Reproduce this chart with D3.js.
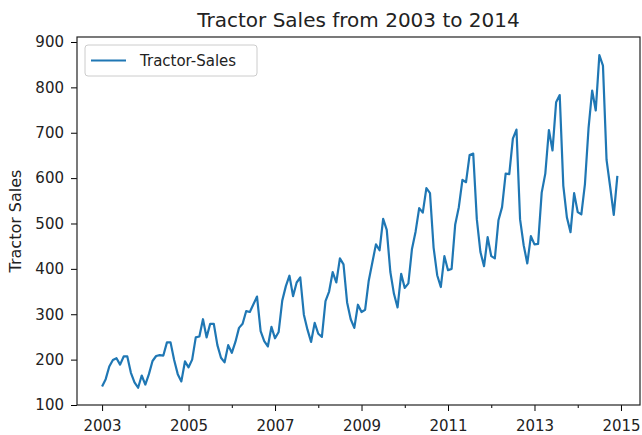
<!DOCTYPE html>
<html>
<head>
<meta charset="utf-8">
<script src="https://d3js.org/d3.v7.min.js"></script>
<style>
  body { margin: 0; background: #fff; }
  text { font-family: "DejaVu Sans", sans-serif; fill: #222; }
</style>
</head>
<body>
<div id="chart"></div>
<script>

var years = [2003, 2004, 2005, 2006, 2007, 2008, 2009, 2010, 2011, 2012, 2013, 2014];
var sales2003 = [141, 157, 185, 199, 203, 189, 207, 207, 171, 150, 138, 165];
var sales2004 = [145, 168, 197, 208, 210, 209, 238, 238, 199, 168, 152, 196];
var sales2005 = [183, 200, 249, 251, 289, 249, 279, 279, 232, 204, 194, 232];
var sales2006 = [215, 239, 270, 279, 307, 305, 322, 339, 263, 241, 229, 272];
var sales2007 = [247, 261, 330, 362, 385, 340, 370, 381, 299, 266, 239, 281];
var sales2008 = [257, 250, 329, 350, 393, 370, 423, 410, 326, 289, 270, 321];
var sales2009 = [305, 310, 374, 414, 454, 441, 510, 486, 393, 345, 315, 389];
var sales2010 = [358, 368, 444, 482, 534, 524, 578, 567, 447, 386, 360, 428];
var sales2011 = [397, 400, 498, 536, 596, 591, 651, 654, 509, 437, 406, 470];
var sales2012 = [428, 423, 507, 536, 610, 609, 687, 707, 509, 452, 412, 472];
var sales2013 = [454, 455, 568, 610, 706, 661, 767, 783, 583, 513, 481, 567];
var sales2014 = [525, 520, 587, 710, 793, 749, 871, 848, 640, 581, 519, 605];
var salesByYear = [sales2003, sales2004, sales2005, sales2006, sales2007, sales2008,
                   sales2009, sales2010, sales2011, sales2012, sales2013, sales2014];

var xTicks = [2003, 2005, 2007, 2009, 2011, 2013, 2015];
var xMinorTicks = [2004, 2006, 2008, 2010, 2012, 2014];
var yTicks = [100, 200, 300, 400, 500, 600, 700, 800, 900];

// flatten to monthly points, t = decimal year
var data = [];
years.forEach(function(yr, i) {
  salesByYear[i].forEach(function(v, m) {
    data.push({t: yr + m / 12, value: v});
  });
});

var svg = d3.select("#chart").append("svg").attr("width", 642).attr("height", 435),
    margin = {top: 37, right: 2, bottom: 30, left: 77},
    width = +svg.attr("width") - margin.left - margin.right,
    height = +svg.attr("height") - margin.top - margin.bottom;

var g = svg.append("g")
    .attr("transform", "translate(" + margin.left + "," + margin.top + ")");

var x = d3.scaleLinear().domain([2002.42, 2015.44]).range([0, width]);
var y = d3.scaleLinear().domain([100, 911]).range([height, 0]);

g.append("g")
    .attr("transform", "translate(0," + height + ")")
    .call(d3.axisBottom(x).tickValues(xMinorTicks).tickSize(3).tickFormat(""))
    .call(function(s) { s.select(".domain").remove(); });

var xAxis = g.append("g")
    .attr("transform", "translate(0," + height + ")")
    .call(d3.axisBottom(x).tickValues(xTicks).tickFormat(d3.format("d")).tickSize(6).tickPadding(9));
xAxis.select(".domain").remove();
xAxis.selectAll("text").style("font-size", "15px").style("fill", "#222");

var yAxis = g.append("g")
    .call(d3.axisLeft(y).tickValues(yTicks).tickSize(6).tickPadding(7));
yAxis.select(".domain").remove();
yAxis.selectAll("text").style("font-size", "15px").style("fill", "#222");

var line = d3.line()
    .x(function(d) { return x(d.t); })
    .y(function(d) { return y(d.value); });

g.append("path")
    .datum(data)
    .attr("fill", "none")
    .attr("stroke", "#1f77b4")
    .attr("stroke-width", 2.2)
    .attr("stroke-linejoin", "round")
    .attr("d", line);

// frame
g.append("rect")
    .attr("width", width).attr("height", height)
    .attr("fill", "none").attr("stroke", "#222").attr("stroke-width", 1.2);

// title + y label
svg.append("text")
    .attr("x", margin.left + width / 2).attr("y", 27)
    .attr("text-anchor", "middle")
    .style("font-size", "20px")
    .text("Tractor Sales from 2003 to 2014");

svg.append("text")
    .attr("transform", "translate(21," + (margin.top + height / 2) + ") rotate(-90)")
    .attr("text-anchor", "middle")
    .style("font-size", "16px")
    .text("Tractor Sales");

// legend
var legend = svg.append("g").attr("transform", "translate(85,45)");
legend.append("rect")
    .attr("width", 172).attr("height", 31).attr("rx", 3)
    .attr("fill", "#fff").attr("stroke", "#ccc");
legend.append("line")
    .attr("x1", 6).attr("x2", 41).attr("y1", 15.5).attr("y2", 15.5)
    .attr("stroke", "#1f77b4").attr("stroke-width", 2.2);
legend.append("text")
    .attr("x", 55).attr("y", 21)
    .style("font-size", "15px")
    .text("Tractor-Sales");

</script>
</body>
</html>
